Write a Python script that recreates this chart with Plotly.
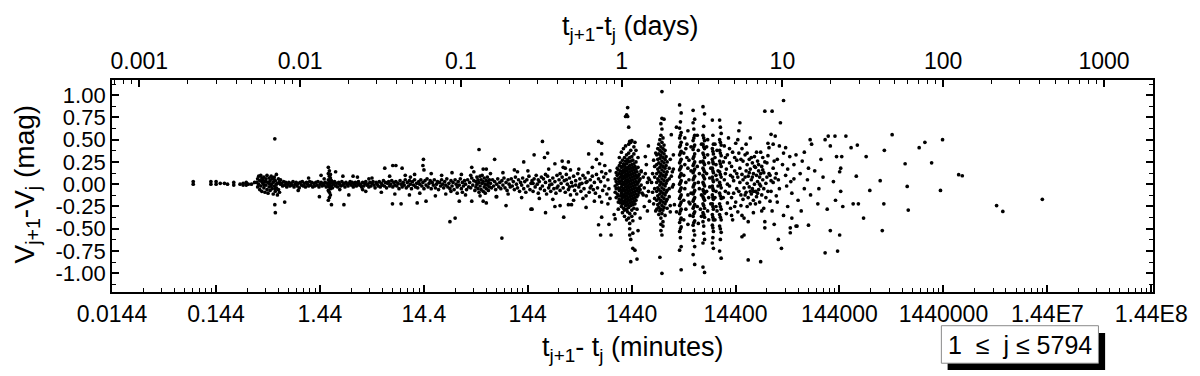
import plotly.graph_objects as go
import numpy as np

# values: log10 of the time gap (minutes), magnitude step
short_gaps = [(-1.06, 0.03), (-1.06, 0.00), (-0.89, 0.03), (-0.89, 0.00), (-0.84, 0.03), (-0.84, 0.00),
              (-0.80, 0.01), (-0.76, 0.01), (-0.73, 0.00), (-0.67, 0.02), (-0.67, -0.01), (-0.61, 0.00),
              (-0.58, 0.01), (-0.58, -0.01), (-0.55, 0.02), (-0.55, -0.01), (-0.53, 0.00), (-0.50, 0.00),
              (-0.47, 0.02)]

first_clump = [(-0.45, 0.02), (-0.44, 0.06), (-0.44, -0.03), (-0.43, 0.09), (-0.43, 0.00), (-0.42, -0.06),
               (-0.42, 0.04), (-0.41, 0.10), (-0.41, -0.02), (-0.40, 0.07), (-0.40, -0.08), (-0.39, 0.01),
               (-0.39, 0.05), (-0.38, -0.04), (-0.38, 0.08), (-0.37, -0.09), (-0.37, 0.03), (-0.36, 0.06),
               (-0.36, -0.01), (-0.35, 0.10), (-0.35, -0.06), (-0.34, 0.02), (-0.34, -0.10), (-0.33, 0.07),
               (-0.33, -0.03), (-0.32, 0.04), (-0.32, -0.07), (-0.31, 0.09), (-0.31, 0.00), (-0.30, -0.05),
               (-0.30, 0.06), (-0.29, -0.11), (-0.29, 0.02), (-0.28, 0.08), (-0.28, -0.02), (-0.27, -0.08),
               (-0.27, 0.04), (-0.26, 0.11), (-0.26, -0.04), (-0.25, 0.01), (-0.25, -0.12), (-0.24, 0.06),
               (-0.24, -0.06), (-0.23, 0.03), (-0.23, -0.09), (-0.22, 0.00), (-0.22, 0.05), (-0.36, 0.03),
               (-0.33, 0.01), (-0.31, -0.02), (-0.28, 0.05), (-0.26, 0.00), (-0.40, 0.03), (-0.38, -0.01),
               (-0.29, 0.07), (-0.27, -0.05), (-0.275, 0.51), (-0.275, -0.23), (-0.27, -0.32), (-0.18, -0.20)]

band = [(-0.21, 0.01), (-0.20, -0.02), (-0.19, 0.03), (-0.18, -0.01), (-0.17, 0.02), (-0.16, -0.03),
        (-0.15, 0.00), (-0.14, 0.02), (-0.13, -0.02), (-0.12, 0.01), (-0.11, -0.01), (-0.10, 0.03),
        (-0.09, -0.03), (-0.08, 0.00), (-0.07, 0.02), (-0.06, -0.02), (-0.05, 0.01), (-0.04, -0.04),
        (-0.03, 0.02), (-0.02, -0.01), (-0.01, 0.03), (0.00, -0.02), (0.01, 0.01), (0.02, -0.03),
        (0.03, 0.02), (0.04, 0.00), (0.05, -0.02), (0.06, 0.03), (0.07, -0.01), (0.08, 0.02),
        (0.09, -0.03), (0.10, 0.01), (0.11, -0.02), (0.12, 0.02), (0.13, -0.01), (0.14, 0.03),
        (0.15, -0.03), (0.16, 0.00), (0.17, 0.02), (0.18, -0.02), (0.19, 0.01), (0.20, -0.01),
        (0.21, 0.02), (0.22, -0.03), (0.23, 0.01), (0.24, 0.19), (0.25, 0.15), (0.24, 0.12),
        (0.25, 0.09), (0.26, 0.07), (0.24, 0.05), (0.25, 0.03), (0.26, 0.01), (0.24, -0.01),
        (0.25, -0.03), (0.26, -0.05), (0.24, -0.07), (0.25, -0.09), (0.26, -0.12), (0.25, -0.15),
        (0.24, -0.18), (0.26, 0.11), (0.27, -0.02), (0.27, 0.04), (0.28, 0.02), (0.28, -0.04),
        (0.29, 0.00), (0.30, 0.03), (0.31, -0.02), (0.32, 0.01), (0.33, -0.03), (0.34, 0.02),
        (0.35, 0.00), (0.36, -0.02), (0.37, 0.03), (0.38, -0.01), (0.39, 0.01), (0.40, -0.03),
        (0.41, 0.02), (0.42, 0.00), (0.43, -0.02), (0.44, 0.01), (0.45, 0.03), (0.46, -0.01),
        (0.47, 0.02), (0.48, -0.03), (0.49, 0.00), (0.50, 0.02), (0.51, -0.02), (0.52, 0.01),
        (0.53, 0.03), (0.54, -0.01), (0.55, 0.00), (0.56, -0.03), (0.57, 0.02), (0.58, -0.02),
        (0.59, 0.01), (0.60, 0.03), (0.61, -0.01), (0.62, 0.00), (0.63, -0.03), (0.64, 0.02),
        (0.65, -0.02), (0.66, 0.01), (0.67, 0.03), (0.68, -0.01), (0.69, -0.04), (0.70, 0.02),
        (0.71, 0.00), (0.72, -0.02), (0.73, 0.03), (0.74, -0.03), (0.75, 0.01), (0.76, -0.01),
        (0.77, 0.04), (0.78, -0.02), (0.79, 0.02), (0.80, -0.04), (0.81, 0.01), (0.82, 0.03),
        (0.83, -0.02), (0.84, 0.00), (0.85, 0.04), (0.86, -0.03), (0.87, 0.02), (0.88, -0.01),
        (0.89, 0.03), (0.90, -0.02), (0.91, 0.01), (0.92, -0.05), (0.93, 0.04), (0.94, 0.00),
        (0.95, -0.03), (0.96, 0.02), (0.97, -0.01), (0.98, 0.05), (0.99, -0.04), (1.00, 0.02),
        (1.01, -0.02), (1.02, 0.04), (1.03, 0.00), (1.04, -0.05), (1.05, 0.03), (1.06, -0.01),
        (1.07, 0.05), (1.08, -0.03), (1.09, 0.01), (1.10, -0.04), (1.11, 0.03), (1.12, 0.00),
        (1.13, 0.05), (1.14, -0.02), (1.15, 0.02), (1.16, -0.05), (1.17, 0.04), (1.18, -0.01),
        (1.19, 0.06), (1.20, -0.03), (1.21, 0.01), (1.22, 0.04), (1.23, -0.05), (1.24, 0.02),
        (1.25, -0.01), (1.26, 0.05), (1.27, -0.04), (1.28, 0.00), (1.29, 0.03), (1.30, -0.06),
        (1.31, 0.02), (1.32, -0.02), (1.33, 0.05), (1.34, 0.00), (1.35, -0.04), (1.36, 0.03),
        (1.37, -0.01), (1.38, 0.06), (1.39, -0.03), (1.40, 0.01), (1.41, -0.05), (1.42, 0.04),
        (1.43, -0.02), (1.44, 0.02), (1.45, -0.06), (1.46, 0.05), (1.47, 0.00), (1.48, -0.03),
        (1.49, 0.03), (1.50, -0.01), (1.51, 0.06), (1.52, -0.05), (1.53, 0.02), (1.54, -0.02),
        (1.55, 0.04), (1.56, 0.00), (1.57, -0.06), (1.58, 0.05), (1.59, -0.03), (1.60, 0.02),
        (1.61, -0.04), (1.62, 0.07), (1.63, -0.01), (1.64, 0.04), (1.65, -0.07), (1.66, 0.03),
        (1.66, -0.03), (1.67, 0.08), (1.67, 0.00), (1.68, -0.05), (1.68, 0.05), (1.69, -0.09),
        (1.69, 0.02), (1.70, 0.09), (1.70, -0.02), (1.71, 0.05), (1.71, -0.06), (1.72, 0.01),
        (1.72, 0.10), (1.73, -0.08), (1.73, 0.03), (1.74, -0.03), (1.74, 0.07), (1.75, 0.00),
        (1.75, -0.10), (1.76, 0.04), (1.76, -0.05), (1.77, 0.08), (1.77, -0.01), (1.78, 0.02),
        (1.78, -0.07), (1.79, 0.05), (1.79, -0.03), (1.80, 0.01), (1.81, -0.04), (1.82, 0.05),
        (1.83, -0.02), (1.84, 0.03), (1.85, -0.06), (1.86, 0.00), (1.87, 0.06), (1.88, -0.03),
        (1.89, 0.02), (1.90, -0.05), (1.91, 0.04), (1.92, -0.01), (1.93, 0.07), (1.94, -0.04),
        (1.95, 0.02), (1.96, -0.07), (1.97, 0.05), (1.98, 0.00), (1.99, -0.03), (2.00, 0.06),
        (2.01, -0.02), (2.02, 0.03), (2.03, -0.06), (2.04, 0.08), (2.05, 0.00), (2.06, -0.04),
        (2.07, 0.05), (2.08, -0.08), (2.09, 0.02), (2.10, -0.01), (2.11, 0.07), (2.12, -0.05),
        (2.13, 0.03), (2.14, -0.09), (2.15, 0.05), (2.16, -0.02), (2.17, 0.09), (2.18, -0.06),
        (2.19, 0.01), (2.20, 0.04), (2.21, -0.08), (2.22, 0.06), (2.23, -0.03), (2.24, 0.10),
        (2.25, 0.00), (2.26, -0.10), (2.27, 0.03), (2.28, -0.05), (2.29, 0.08), (2.21, 0.01),
        (2.26, 0.05), (2.30, -0.02), (2.31, 0.06), (2.32, -0.07), (2.33, 0.02), (2.34, -0.11),
        (2.35, 0.09), (2.36, -0.04), (2.37, 0.04), (2.38, -0.08), (2.39, 0.00), (2.33, 0.11),
        (2.37, -0.01), (2.40, 0.07), (2.41, -0.05), (2.42, 0.03), (2.43, -0.10), (2.44, 0.10),
        (2.45, -0.02), (2.46, 0.05), (2.47, -0.07), (2.48, 0.01), (2.49, 0.08), (2.44, -0.04),
        (2.47, 0.12), (2.50, -0.04), (2.51, 0.04), (2.52, -0.09), (2.53, 0.11), (2.54, 0.00),
        (2.55, -0.06), (2.56, 0.07), (2.57, -0.12), (2.58, 0.02), (2.59, -0.02), (2.53, 0.05),
        (2.56, -0.03), (2.60, 0.09), (2.61, -0.07), (2.62, 0.04), (2.63, -0.11), (2.64, 0.12),
        (2.65, -0.03), (2.66, 0.06), (2.67, -0.08), (2.68, 0.01), (2.69, 0.10), (2.62, -0.01),
        (2.66, 0.00), (2.70, -0.05), (2.71, 0.07), (2.72, -0.13), (2.73, 0.03), (2.74, 0.13),
        (2.75, -0.09), (2.76, 0.05), (2.77, -0.02), (2.78, 0.09), (2.79, -0.06), (2.72, 0.02),
        (2.76, -0.04), (2.80, 0.02), (2.81, -0.10), (2.82, 0.11), (2.83, -0.04), (2.84, 0.06),
        (2.85, -0.14), (2.86, 0.03), (2.87, 0.14), (2.88, -0.07), (2.89, 0.08), (2.90, -0.02),
        (2.91, 0.12), (2.92, -0.11), (2.93, 0.05), (2.94, -0.05), (2.95, 0.15), (2.95, -0.16)]

band_scatter = [(0.154, -0.14), (0.27, -0.23), (0.39, -0.23), (0.437, -0.12), (0.17, 0.10), (0.31, 0.14),
                (0.38, 0.09), (0.478, 0.09), (0.783, 0.18), (0.86, 0.21), (0.89, 0.21), (0.95, 0.18),
                (0.857, -0.22), (0.94, -0.22), (1.155, 0.28), (1.15, 0.21), (1.16, 0.16), (1.095, -0.21),
                (1.18, -0.19), (1.41, -0.42), (1.46, -0.38), (1.69, 0.39), (1.62, 0.19), (1.73, 0.17),
                (1.76, 0.17), (1.84, 0.28), (1.50, -0.19), (1.62, -0.19), (1.73, -0.19), (1.76, -0.21),
                (1.91, -0.605), (1.855, -0.14), (1.95, -0.24), (2.12, 0.25), (2.22, 0.33), (2.30, 0.48),
                (2.32, 0.30), (2.35, 0.35), (2.03, 0.16), (2.19, -0.28), (2.20, -0.28), (2.33, -0.32),
                (2.505, -0.37), (2.42, -0.25), (2.47, -0.24), (2.55, -0.23), (2.58, -0.23), (2.42, 0.23),
                (2.49, 0.26), (2.55, 0.25), (2.50, 0.19), (2.57, 0.16), (2.745, 0.34), (2.84, 0.48),
                (2.87, 0.46), (2.82, 0.28), (2.85, 0.23), (2.87, 0.34), (2.72, -0.26), (2.84, -0.455),
                (2.86, -0.57), (2.87, -0.37), (2.99, -0.34), (3.00, -0.39), (2.87, -0.20), (2.96, -0.57),
                (2.94, -0.45), (0.52, 0.08), (0.60, -0.08), (0.66, 0.07), (0.75, -0.09), (0.83, 0.09),
                (0.88, -0.11), (0.98, 0.10), (1.02, -0.12), (1.07, 0.11), (1.12, -0.10), (1.23, 0.12),
                (1.27, -0.13), (1.33, 0.10), (1.37, -0.11), (1.43, 0.13), (1.48, -0.10), (1.52, 0.11),
                (1.56, -0.12), (1.64, 0.14), (1.70, -0.13), (1.80, 0.12), (1.86, -0.14), (1.92, 0.13),
                (1.97, -0.11), (2.06, 0.14), (2.10, -0.15), (2.16, 0.15), (2.27, -0.16), (2.36, 0.17),
                (2.40, -0.17), (2.52, 0.18), (2.60, -0.18), (2.65, 0.17), (2.69, -0.16), (2.78, 0.19),
                (2.80, -0.19), (2.90, 0.21), (2.93, -0.22), (0.05, 0.07), (-0.05, -0.07), (0.57, -0.06),
                (0.63, 0.06), (0.20, 0.06), (0.35, -0.06), (1.03, 0.08), (1.42, -0.08), (1.61, 0.10),
                (1.53, -0.09), (3.10, 0.76)]

# gaps of about one day (1440 min): columns of log10(dt) -> dV
one_day = {
    3.00: [0.06, -0.02, -0.09],
    3.01: [0.13, 0.03, -0.05, -0.15],
    3.02: [0.18, 0.10, 0.00, -0.11],
    3.03: [0.16, 0.06, -0.04, -0.13, -0.20, -0.28],
    3.04: [0.30, 0.21, 0.12, 0.03, -0.07, -0.17],
    3.05: [0.24, 0.15, 0.08, 0.01, -0.06, -0.13, -0.21],
    3.06: [0.36, 0.19, 0.11, 0.04, -0.03, -0.10, -0.18, -0.25],
    3.07: [0.27, 0.20, 0.13, 0.06, -0.01, -0.08, -0.15, -0.22, -0.32],
    3.08: [0.40, 0.23, 0.16, 0.09, 0.02, -0.05, -0.12, -0.19, -0.27],
    3.09: [0.30, 0.21, 0.14, 0.07, 0.00, -0.07, -0.14, -0.21, -0.29, -0.36],
    3.10: [0.43, 0.26, 0.18, 0.11, 0.04, -0.03, -0.10, -0.17, -0.24],
    3.11: [0.78, 0.33, 0.23, 0.15, 0.08, 0.01, -0.06, -0.13, -0.20, -0.28, -0.40],
    3.12: [0.86, 0.76, 0.28, 0.19, 0.12, 0.05, -0.02, -0.09, -0.16, -0.23, -0.31],
    3.13: [0.64, 0.45, 0.35, 0.25, 0.17, 0.10, 0.03, -0.04, -0.11, -0.18, -0.26, -0.38],
    3.14: [0.48, 0.30, 0.21, 0.14, 0.07, 0.00, -0.07, -0.14, -0.21, -0.33, -0.44, -0.50, -0.57],
    3.15: [0.47, 0.38, 0.26, 0.18, 0.11, 0.04, -0.03, -0.10, -0.17, -0.24, -0.62, -0.87],
    3.16: [0.49, 0.31, 0.22, 0.15, 0.08, 0.01, -0.06, -0.13, -0.20, -0.29, -0.36],
    3.17: [0.27, 0.19, 0.12, 0.05, -0.02, -0.09, -0.16, -0.23, -0.41, -0.55, -0.72],
    3.18: [0.42, 0.34, 0.23, 0.16, 0.09, 0.02, -0.05, -0.12, -0.19, -0.27],
    3.19: [0.47, 0.20, 0.13, 0.06, -0.01, -0.08, -0.15, -0.22, -0.33, -0.74],
    3.20: [0.38, 0.25, 0.17, 0.10, 0.03, -0.04, -0.11, -0.18],
    3.21: [0.14, 0.07, 0.00, -0.07, -0.14, -0.28, -0.84],
    3.22: [0.30, 0.19, 0.09, 0.02, -0.05, -0.12, -0.52],
    3.23: [0.11, 0.04, -0.03, -0.09],
    3.24: [0.06, -0.06, -0.38],
    3.25: [0.15, 0.14, -0.01],
    3.26: [-0.10],
    3.27: [0.08, -0.12],
    3.28: [-0.04, -0.25],
    3.29: [0.12, 0.31],
    3.30: [-0.13, 0.22],
    3.31: [0.02, -0.30],
    3.32: [0.07, -0.08, 0.43],
    3.33: [0.05, -0.19],
}

# about two days (2880 min)
two_days = {
    3.35: [0.02],
    3.36: [0.12, -0.09],
    3.37: [0.27, -0.22],
    3.38: [0.20, 0.08, -0.05, -0.16],
    3.39: [0.35, -0.30],
    3.40: [0.33, 0.22, 0.12, 0.02, -0.08, -0.18, -0.28],
    3.41: [0.40, 0.28, 0.17, 0.06, -0.04, -0.13, -0.23],
    3.42: [0.45, 0.34, 0.24, 0.14, 0.04, -0.06, -0.16, -0.26, -0.34],
    3.43: [0.50, 0.38, 0.29, 0.19, 0.09, -0.01, -0.11, -0.21, -0.30, -0.82],
    3.44: [0.68, 0.55, 0.42, 0.32, 0.22, 0.12, 0.02, -0.08, -0.18, -0.28, -0.38, -0.45, -0.52],
    3.45: [1.04, 0.74, 0.62, 0.47, 0.36, 0.26, 0.16, 0.06, -0.04, -0.14, -0.24, -0.33, -0.57, -1.00],
    3.46: [0.52, 0.40, 0.30, 0.20, 0.10, 0.00, -0.10, -0.20, -0.29, -0.42, -0.47],
    3.47: [0.73, 0.44, 0.34, 0.24, 0.14, 0.04, -0.06, -0.16, -0.26],
    3.48: [0.38, 0.28, 0.18, 0.08, -0.02, -0.12, -0.22, -0.35],
    3.49: [0.31, 0.21, 0.11, 0.01, -0.09, -0.19],
    3.50: [0.25, 0.14, 0.04, -0.07, -0.17, -0.27],
    3.52: [0.18, 0.06, -0.05, -0.14],
    3.53: [0.28, -0.24, -0.31],
    3.54: [0.09, 0.556],
    3.55: [-0.03, 0.14],
    3.56: [0.17, 0.33, -0.005],
    3.57: [-0.23],
    3.59: [0.64, -0.31],
}

# 3 to 7 day stripes and the gaps between them
day_stripes = {
    3.62: [0.89, 0.63, 0.52, 0.42, 0.33, 0.24, 0.16, 0.08, 0.00, -0.08, -0.16, -0.24, -0.33, -0.43, -0.53, -0.74],
    3.628: [0.70, 0.55, 0.44, 0.35, 0.26, 0.18, 0.10, 0.02, -0.06, -0.14, -0.22, -0.30, -0.40, -0.50, -0.60],
    3.635: [0.80, 0.58, 0.47, 0.37, 0.28, 0.20, 0.12, 0.04, -0.04, -0.12, -0.20, -0.28, -0.38, -0.48, -0.70, -0.96],
    3.66: [0.35, 0.10, -0.18, -0.40],
    3.67: [0.22, -0.05, 0.52],
    3.68: [0.40, 0.02, -0.28],
    3.69: [0.30, 0.45],
    3.70: [-0.12, 0.18, 0.60, -0.45],
    3.71: [0.05, 0.27, -0.20],
    3.72: [-0.35, -0.22],
    3.73: [0.15, -0.10, 0.42],
    3.75: [0.83, 0.69, 0.49, 0.39, 0.29, 0.21, 0.13, 0.05, -0.03, -0.11, -0.19, -0.27, -0.36, -0.46, -0.63, -0.79],
    3.757: [0.62, 0.52, 0.42, 0.31, 0.23, 0.15, 0.07, -0.01, -0.09, -0.17, -0.25, -0.33, -0.43, -0.52],
    3.765: [0.73, 0.55, 0.44, 0.34, 0.25, 0.17, 0.09, 0.01, -0.07, -0.15, -0.23, -0.31, -0.41, -0.57, -0.70, -0.90],
    3.79: [0.20, -0.25, 0.55],
    3.80: [0.38, -0.44, 0.02],
    3.81: [-0.05, 0.12],
    3.82: [-0.28, 0.25],
    3.83: [-0.12, 0.45, -0.36],
    3.845: [0.87, 0.55, 0.45, 0.35, 0.26, 0.18, 0.10, 0.02, -0.06, -0.14, -0.22, -0.32, -0.42, -0.66, -0.93],
    3.852: [0.65, 0.52, 0.42, 0.33, 0.24, 0.16, 0.08, 0.00, -0.08, -0.16, -0.24, -0.34, -0.47, -0.55],
    3.86: [0.79, 0.49, 0.40, 0.30, 0.22, 0.14, 0.06, -0.02, -0.10, -0.18, -0.27, -0.37, -0.62, -0.99],
    3.88: [0.12, -0.08, 0.42],
    3.89: [0.33, 0.50, -0.30],
    3.90: [-0.15, 0.24, -0.40],
    3.91: [0.07, -0.03],
    3.92: [0.18, -0.22],
    3.935: [0.72, 0.40, 0.28, 0.18, 0.08, -0.02, -0.12, -0.22, -0.34, -0.46, -0.66],
    3.94: [0.55, 0.37, 0.25, 0.15, 0.05, -0.05, -0.15, -0.25, -0.37, -0.49, -0.60],
    3.945: [0.45, 0.34, 0.23, 0.13, 0.03, -0.07, -0.17, -0.28, -0.40, -0.53, -0.72],
    3.96: [0.30, -0.15, 0.45, -0.40],
    3.97: [0.22, 0.10, -0.08, -0.25],
    3.98: [0.05, -0.30, 0.38],
    3.99: [0.15, -0.02],
    4.005: [0.72, 0.50, 0.38, 0.26, 0.14, 0.02, -0.10, -0.22, -0.34, -0.47, -0.75],
    4.012: [0.64, 0.47, 0.35, 0.23, 0.11, -0.01, -0.13, -0.25, -0.37, -0.50, -0.62],
    4.02: [0.57, 0.44, 0.32, 0.20, 0.08, -0.04, -0.16, -0.28, -0.40, -0.54, -0.83],
}

long_gaps = [(4.05, 0.43), (4.06, 0.30), (4.07, 0.17), (4.05, 0.05), (4.06, -0.08), (4.08, -0.21),
             (4.07, -0.33), (4.09, 0.52), (4.10, 0.24), (4.11, 0.10), (4.10, -0.02), (4.12, -0.15),
             (4.11, -0.27), (4.13, 0.36), (4.14, 0.04), (4.13, -0.40), (4.15, 0.15), (4.14, -0.10),
             (4.16, 0.46), (4.17, 0.27), (4.16, -0.20), (4.18, 0.08), (4.17, -0.05), (4.19, 0.35),
             (4.18, -0.31), (4.20, 0.18), (4.21, -0.12), (4.20, 0.02), (4.22, 0.40), (4.21, -0.24),
             (4.23, 0.26), (4.22, 0.11), (4.24, -0.04), (4.23, -0.17), (4.25, 0.33), (4.24, -0.38),
             (4.19, 0.60), (4.20, 0.69), (4.26, 0.15), (4.26, -0.09), (4.27, 0.22), (4.27, 0.01),
             (4.28, -0.15), (4.28, 0.09), (4.29, 0.28), (4.29, -0.03), (4.30, 0.17), (4.30, -0.22),
             (4.31, 0.05), (4.31, -0.11), (4.32, 0.24), (4.32, -0.05), (4.33, 0.12), (4.33, -0.18),
             (4.34, 0.00), (4.34, 0.31), (4.35, -0.08), (4.35, 0.19), (4.26, 0.45), (4.30, 0.52),
             (4.33, -0.32), (4.28, -0.42), (4.24, -0.57), (4.22, -0.59), (4.28, -0.85), (4.36, 0.10),
             (4.36, -0.14), (4.37, 0.26), (4.37, 0.03), (4.38, -0.06), (4.38, 0.15), (4.39, -0.20),
             (4.39, 0.08), (4.40, 0.36), (4.40, -0.02), (4.41, 0.20), (4.41, -0.12), (4.42, 0.05),
             (4.43, -0.27), (4.43, 0.13), (4.44, -0.49), (4.44, -0.42), (4.45, 0.01), (4.42, 0.30),
             (4.40, -0.87), (4.46, 0.24), (4.47, -0.08), (4.48, 0.41), (4.48, 0.12), (4.49, -0.19),
             (4.50, 0.56), (4.50, 0.04), (4.51, -0.30), (4.52, 0.18), (4.53, -0.45), (4.54, 0.54),
             (4.54, 0.07), (4.55, -0.13), (4.56, 0.28), (4.57, -0.62), (4.58, 0.43), (4.58, -0.05),
             (4.59, 0.69), (4.60, -0.72), (4.44, 0.82), (4.51, 0.82), (4.62, 0.94), (4.61, 0.22),
             (4.47, 0.46), (4.52, 0.45), (4.62, 0.35), (4.64, 0.10), (4.65, -0.02), (4.66, 0.17),
             (4.68, 0.31), (4.70, -0.10), (4.72, 0.06), (4.74, 0.33), (4.76, -0.18), (4.78, 0.12),
             (4.80, 0.26), (4.82, -0.05), (4.85, 0.05), (4.88, -0.12), (4.685, -0.49), (4.685, -0.545),
             (4.74, -0.47), (4.75, -0.47), (4.86, -0.46), (4.876, 0.50), (4.89, 0.45), (4.86, 0.18),
             (4.62, -0.35), (4.66, -0.25), (4.70, -0.38), (4.64, 0.41), (4.72, 0.22), (4.82, 0.36),
             (4.79, -0.30), (4.69, 0.03), (4.92, 0.15), (4.95, -0.22), (4.98, 0.28), (5.02, 0.50),
             (5.05, 0.54), (5.07, 0.43), (5.115, 0.54), (5.13, 0.31), (5.16, 0.14), (5.18, 0.31),
             (5.02, -0.77), (5.07, -0.52), (5.16, -0.57), (5.14, -0.75), (5.00, 0.08), (5.10, 0.03),
             (5.12, -0.18), (4.96, -0.05), (5.04, -0.28), (5.17, 0.18), (5.19, -0.25), (5.17, -0.08),
             (5.22, 0.54), (5.27, 0.41), (5.33, 0.44), (5.415, 0.31), (5.32, 0.09), (5.45, -0.07),
             (5.39, -0.38), (5.29, -0.22), (5.34, -0.22), (5.55, 0.04), (5.585, -0.22), (5.57, -0.52),
             (5.59, 0.38), (5.665, 0.556), (5.79, 0.23), (5.81, -0.025), (5.82, -0.29), (5.925, 0.41),
             (5.98, 0.47), (6.045, 0.24), (6.13, -0.07), (6.15, 0.50), (6.305, 0.107), (6.34, 0.095),
             (6.67, -0.24), (6.73, -0.305), (7.11, -0.17),
             (4.04, 0.25), (4.04, -0.15), (4.06, 0.12), (4.08, 0.33), (4.08, 0.00), (4.09, -0.10),
             (4.10, 0.40), (4.12, 0.20), (4.12, -0.35), (4.13, 0.08), (4.15, -0.25), (4.15, 0.30),
             (4.17, 0.12), (4.18, 0.50), (4.19, -0.08), (4.21, 0.28), (4.22, -0.35), (4.23, 0.05),
             (4.25, -0.12), (4.25, 0.08), (4.27, -0.25), (4.27, 0.35), (4.29, 0.13), (4.30, -0.08),
             (4.31, 0.30), (4.32, 0.08), (4.33, -0.08), (4.34, 0.20), (4.35, -0.22), (4.36, 0.36),
             (4.37, -0.10), (4.38, 0.22), (4.39, 0.00), (4.40, 0.12), (4.41, -0.30), (4.42, 0.16),
             (4.43, -0.05), (4.44, 0.25), (4.45, -0.15), (4.46, 0.08), (4.47, 0.32), (4.49, 0.10),
             (4.50, -0.08), (4.52, 0.02), (4.53, 0.26), (4.55, 0.12), (4.57, 0.05), (4.56, -0.20)]

minute_ticks = [0.0144, 0.144, 1.44, 14.4, 144, 1440, 14400, 144000, 1440000, 1.44e7, 1.44e8]
minute_labels = ["0.0144", "0.144", "1.44", "14.4", "144", "1440", "14400", "144000", "1440000", "1.44E7", "1.44E8"]
day_ticks = [0.001, 0.01, 0.1, 1, 10, 100, 1000]
day_labels = ["0.001", "0.01", "0.1", "1", "10", "100", "1000"]
mag_ticks = [1.0, 0.75, 0.5, 0.25, 0.0, -0.25, -0.5, -0.75, -1.0]
mag_labels = ["1.00", "0.75", "0.50", "0.25", "0.00", "-0.25", "-0.50", "-0.75", "-1.00"]

pts = short_gaps + first_clump + band + band_scatter + long_gaps
for cols in (one_day, two_days, day_stripes):
    for lx, ys in cols.items():
        pts += [(lx, v) for v in ys]

dt = np.array([10 ** p[0] for p in pts])
dv = np.array([p[1] for p in pts])

font = "Liberation Sans, Arial, sans-serif"
minute_minor = [t * m for t in [0.00144] + minute_ticks for m in range(2, 10)]
day_minor = [t * m for t in [0.0001] + day_ticks for m in range(2, 10)]

fig = go.Figure()
fig.add_trace(go.Scatter(x=dt, y=dv, mode="markers",
                         marker=dict(size=3.7, color="black", line=dict(width=0)),
                         hoverinfo="skip"))
# dummy trace so the top (days) axis is drawn
fig.add_trace(go.Scatter(x=[1], y=[None], xaxis="x2", mode="markers", hoverinfo="skip"))

# the page body adds an 8 px offset, so the figure is 8 px smaller than the window
fig.update_layout(
    width=1192, height=368,
    margin=dict(l=104, r=39, t=72, b=84),
    plot_bgcolor="white", paper_bgcolor="white",
    showlegend=False,
    font=dict(family=font, size=23, color="black"),
    xaxis=dict(type="log", range=[-1.8416, 8.175],
               tickvals=minute_ticks, ticktext=minute_labels, tickfont=dict(size=23),
               ticks="inside", ticklen=7, tickwidth=1.5, tickcolor="black",
               minor=dict(tickvals=minute_minor, ticks="inside", ticklen=4, tickwidth=1.2, tickcolor="black"),
               showline=True, linewidth=1.8, linecolor="black", mirror=False,
               showgrid=False, zeroline=False),
    xaxis2=dict(type="log", range=[-3.17, 3.305], overlaying="x", side="top", anchor="y",
                tickvals=day_ticks, ticktext=day_labels, tickfont=dict(size=23),
                ticks="inside", ticklen=7, tickwidth=1.5, tickcolor="black",
                minor=dict(tickvals=day_minor, ticks="inside", ticklen=4, tickwidth=1.2, tickcolor="black"),
                showline=True, linewidth=1.8, linecolor="black",
                showgrid=False, zeroline=False),
    yaxis=dict(range=[-1.21, 1.17], tickvals=mag_ticks, ticktext=mag_labels, tickfont=dict(size=22),
               ticks="inside", ticklen=7, tickwidth=1.5, tickcolor="black",
               minor=dict(dtick=0.125, tick0=0, ticks="inside", ticklen=4, tickwidth=1.2, tickcolor="black"),
               showline=True, linewidth=1.8, linecolor="black", mirror="ticks",
               showgrid=False, zeroline=False),
)

fig.add_annotation(text="t<sub>j+1</sub>-t<sub>j</sub> (days)", xref="paper", yref="paper",
                   x=0.498, y=1.335, showarrow=False, font=dict(size=27), xanchor="center", yanchor="top")
fig.add_annotation(text="t<sub>j+1</sub>- t<sub>j</sub> (minutes)", xref="paper", yref="paper",
                   x=0.50, y=-0.27, showarrow=False, font=dict(size=27), xanchor="center", yanchor="middle")
fig.add_annotation(text="V<sub>j+1</sub>-V<sub>j</sub> (mag)", xref="paper", yref="paper",
                   x=-0.082, y=0.51, showarrow=False, textangle=-90, font=dict(size=28),
                   xanchor="center", yanchor="middle")

# boxed label with drop shadow
fig.add_shape(type="rect", xref="paper", yref="paper", x0=0.8027, x1=0.954, y0=-0.368, y1=-0.193,
              fillcolor="black", line=dict(width=0))
fig.add_shape(type="rect", xref="paper", yref="paper", x0=0.7967, x1=0.9476, y0=-0.336, y1=-0.159,
              fillcolor="white", line=dict(color="#8a8a8a", width=1))
fig.add_annotation(text="1\u00a0\u00a0≤\u00a0\u00a0j\u00a0≤\u00a05794", xref="paper", yref="paper",
                   x=0.872, y=-0.252, showarrow=False, font=dict(size=25),
                   xanchor="center", yanchor="middle")

fig.write_html("out.html")
